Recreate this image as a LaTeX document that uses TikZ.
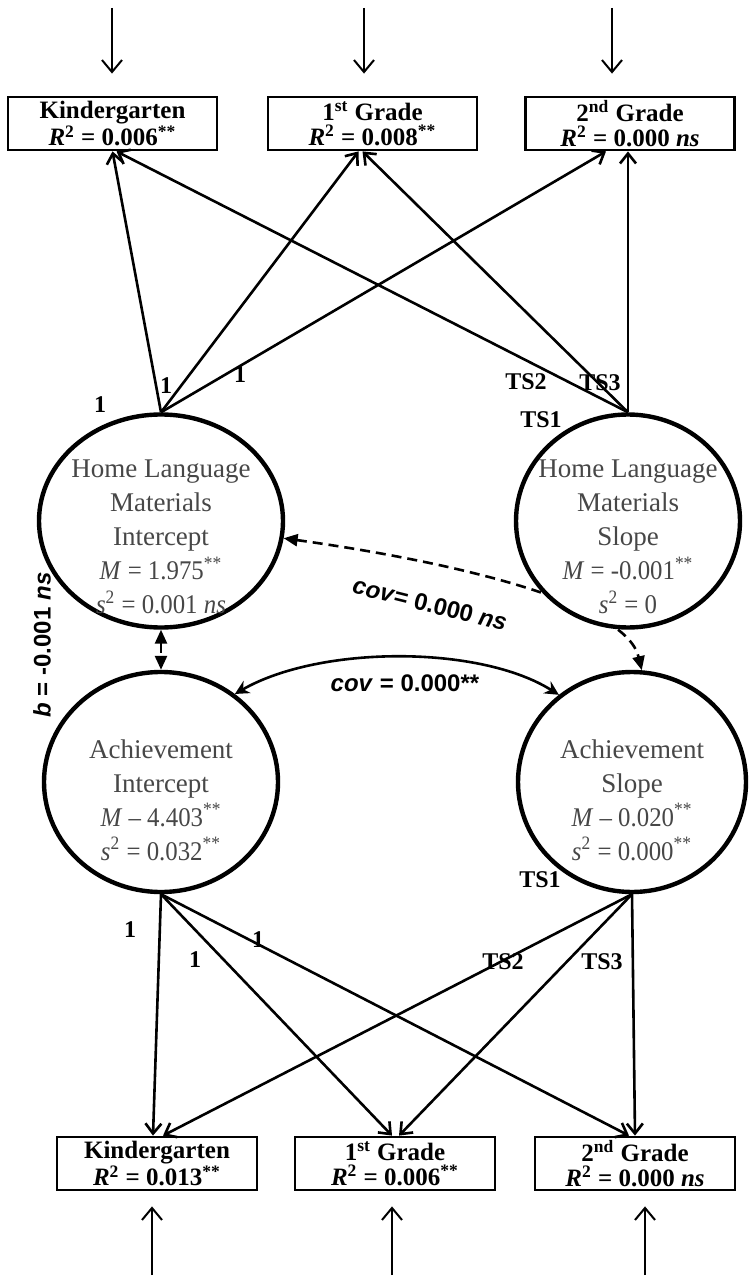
\documentclass[tikz,border=0pt]{standalone}
\usepackage{fontspec}
\setmainfont{Liberation Serif}
\newfontfamily\sansb{Liberation Sans}
\newfontfamily\narrowserif[FakeStretch=0.92,Ligatures=TeX]{Liberation Serif}
\usetikzlibrary{arrows.meta,shapes.geometric,backgrounds}

\begin{document}
\begin{tikzpicture}[x=0.5pt,y=-0.5pt,
  every node/.style={inner sep=0pt},
  obsbox/.style={draw, line width=1.4pt, minimum width=104.5pt, minimum height=26.5pt,
    align=center, font=\fontsize{12.5}{12.5}\selectfont\bfseries},
  lowbox/.style={obsbox, minimum width=100pt},
  latent/.style={ellipse, draw, line width=2.2pt, fill=white},
  lattext/.style={align=center, text=black!72, font=\fontsize{13.5}{17}\selectfont},
  load/.style={line width=1.3pt, -{Straight Barb[length=5pt,width=8pt]}},
  err/.style={line width=1pt, -{Straight Barb[length=6pt,width=10pt]}},
  lab/.style={font=\fontsize{12}{12}\selectfont\bfseries},
  covlab/.style={font=\sansb\fontsize{12}{12}\selectfont\bfseries},
  dsh/.style={line width=1.3pt, dash pattern=on 5pt off 3pt,
    {Triangle[length=7pt,width=6pt]}-{Triangle[length=7pt,width=6pt]}},
]
\useasboundingbox (0,0) rectangle (750,1277);

% observed measures
\node[obsbox] (tk) at (112.5,123.5) {Kindergarten\\\textit{R}\textsuperscript{2} = 0.006\textsuperscript{**}};
\node[obsbox] (t1) at (372.5,123.5) {1\textsuperscript{st} Grade\\\textit{R}\textsuperscript{2} = 0.008\textsuperscript{**}};
\node[obsbox] (t2) at (630,123.5) {2\textsuperscript{nd} Grade\\\textit{R}\textsuperscript{2} = 0.000 \textit{ns}};
\node[lowbox] (bk) at (157,1163.5) {Kindergarten\\\textit{R}\textsuperscript{2} = 0.013\textsuperscript{**}};
\node[lowbox] (b1) at (395,1163.5) {1\textsuperscript{st} Grade\\\textit{R}\textsuperscript{2} = 0.006\textsuperscript{**}};
\node[lowbox] (b2) at (635,1163.5) {2\textsuperscript{nd} Grade\\\textit{R}\textsuperscript{2} = 0.000 \textit{ns}};

% latent growth factors
\node[latent, minimum width=122pt, minimum height=106.5pt] (hli) at (161,521) {};
\node[latent, minimum width=112pt, minimum height=106.5pt] (hls) at (628,521) {};
\node[latent, minimum width=117pt, minimum height=110pt] (aci) at (161,782) {};
\node[latent, minimum width=114pt, minimum height=110pt] (acs) at (632,782) {};

\node[lattext] (hlit) at (161,537) {Home Language\\Materials\\Intercept\\{\narrowserif\textit{M} = 1.975\textsuperscript{**}}\\{\narrowserif\textit{s}\textsuperscript{2} = 0.001 \textit{ns}}};
\node[lattext] (hlst) at (628,537) {Home Language\\Materials\\Slope\\{\narrowserif\textit{M} = -0.001\textsuperscript{**}}\\{\narrowserif\textit{s}\textsuperscript{2} = 0}};
\node[lattext] (acit) at (161,800) {Achievement\\Intercept\\{\narrowserif\textit{M} – 4.403\textsuperscript{**}}\\{\narrowserif\textit{s}\textsuperscript{2} = 0.032\textsuperscript{**}}};
\node[lattext] (acst) at (632,800) {Achievement\\Slope\\{\narrowserif\textit{M} – 0.020\textsuperscript{**}}\\{\narrowserif\textit{s}\textsuperscript{2} = 0.000\textsuperscript{**}}};

% residual arrows
\coordinate (e1) at (112,8);
\coordinate (e2) at (364,8);
\coordinate (e3) at (612,8);
\coordinate (e4) at (152,1275);
\coordinate (e5) at (392,1275);
\coordinate (e6) at (645,1275);
\draw[err, shorten >=11pt] (e1) -- (e1 |- tk.north);
\draw[err, shorten >=11pt] (e2) -- (e2 |- t1.north);
\draw[err, shorten >=11pt] (e3) -- (e3 |- t2.north);
\draw[err, shorten >=7.5pt] (e4) -- (e4 |- bk.south);
\draw[err, shorten >=7.5pt] (e5) -- (e5 |- b1.south);
\draw[err, shorten >=7.5pt] (e6) -- (e6 |- b2.south);

% loadings, home language materials
\draw[load] (hli.north) -- (tk.south);
\draw[load] (hli.north) -- ([xshift=-7pt]t1.south);
\draw[load] (hli.north) -- ([xshift=-12pt]t2.south);
\draw[load] (hls.north) -- ([xshift=2pt]tk.south);
\draw[load] (hls.north) -- ([xshift=-5pt]t1.south);
\draw[load] (hls.north) -- (hls.north |- t2.south);

% loadings, achievement
\draw[load] (aci.south) -- ([xshift=-2pt]bk.north);
\draw[load] (aci.south) -- ([xshift=-1.5pt]b1.north);
\draw[load] (aci.south) -- ([xshift=-3pt]b2.north);
\draw[load] (acs.south) -- ([xshift=3pt]bk.north);
\draw[load] (acs.south) -- ([xshift=2pt]b1.north);
\draw[load] (acs.south) -- (b2.north);

% loading labels
\node[lab] (l1) at (100,405) {1};
\node[lab] (l2) at (166,386) {1};
\node[lab] (l3) at (240,375) {1};
\node[lab] (s2) at (526,382) {TS2};
\node[lab] (s3) at (600,383) {TS3};
\node[lab] (s1) at (541,420) {TS1};
\node[lab] (m1) at (130,930) {1};
\node[lab] (m2) at (195,960) {1};
\node[lab] (m3) at (258,940) {1};
\node[lab] (u1) at (540,880) {TS1};
\node[lab] (u2) at (503,962) {TS2};
\node[lab] (u3) at (602,962) {TS3};

% structural relations
\draw[dsh] (hli.south) -- (aci.north);
\draw[line width=1.3pt, {Stealth[length=7pt,width=7pt]}-{Stealth[length=7pt,width=7pt]}]
  (aci.50) .. controls (320,645) and (480,645) .. (acs.130);
\begin{pgfonlayer}{background}
\draw[dsh] (hli.-8) .. controls (440,560) and (625,600) .. (acs.85);
\end{pgfonlayer}

\node[covlab] (c1) at (405,683) {\textit{cov} = 0.000**};
\node[covlab, rotate=-14] (c2) at (430,604) {\textit{cov}= 0.000 \textit{ns}};
\node[covlab, rotate=90] (c3) at (42,645) {\textit{b} = -0.001 \textit{ns}};
\end{tikzpicture}
\end{document}
